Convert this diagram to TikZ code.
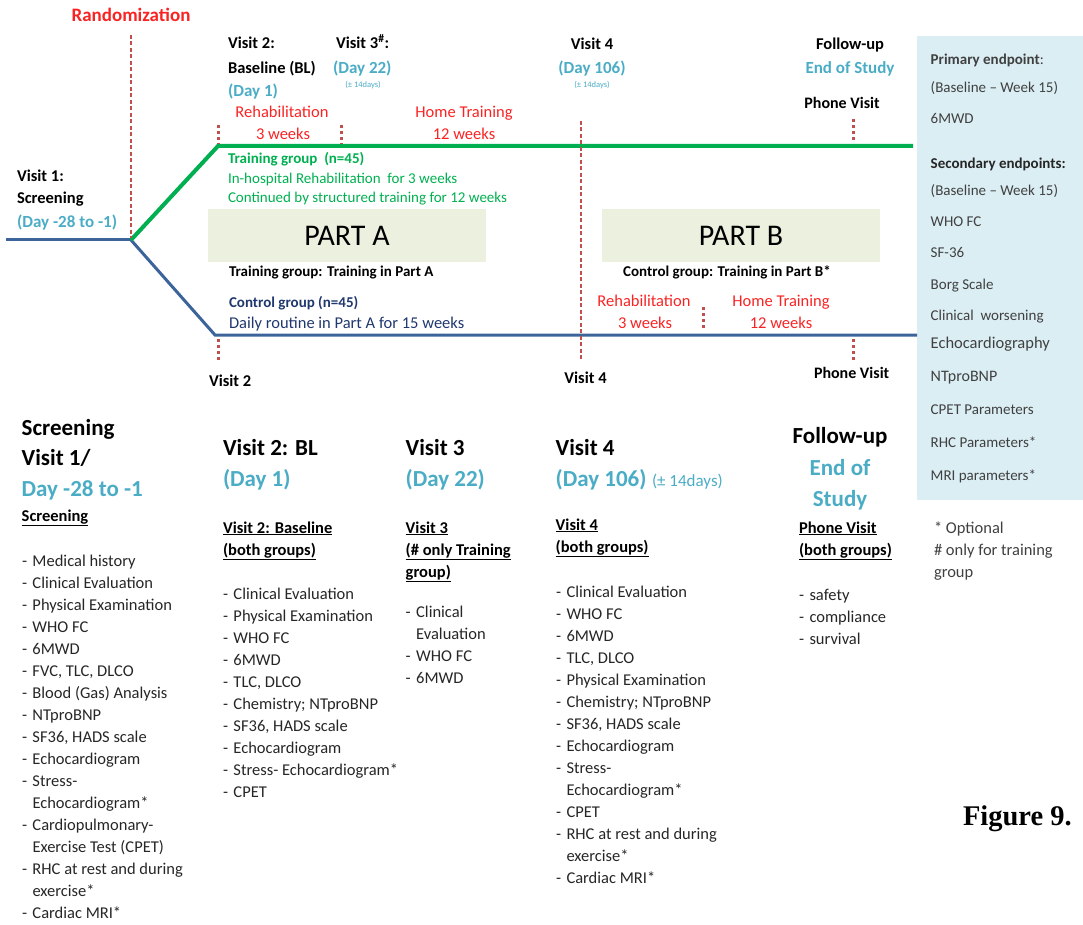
\documentclass[tikz,border=0pt]{standalone}
\usepackage{fontspec}
\setmainfont{Carlito}
\newfontfamily\figfont{Liberation Serif}

\definecolor{dayblue}{RGB}{75,172,198}
\definecolor{phasered}{RGB}{250,35,35}
\definecolor{visitred}{RGB}{192,80,77}
\definecolor{tgreen}{RGB}{0,176,80}
\definecolor{lineblue}{RGB}{60,100,155}
\definecolor{navy}{RGB}{32,56,110}
\definecolor{partfill}{RGB}{235,241,222}
\definecolor{panelfill}{RGB}{219,238,244}
\definecolor{epgray}{RGB}{64,64,64}
\definecolor{listgray}{RGB}{38,38,38}

% list bullets: a dash in a fixed-width box, and the matching indent
\newcommand\dashit{\makebox[10.5pt][l]{-}}
\newcommand\contit{\hspace*{10.5pt}}

\begin{document}
\begin{tikzpicture}[x=1pt,y=-1pt,
  every node/.style={inner sep=0pt, outer sep=0pt},
  bw/.style={anchor=base west},
  bc/.style={anchor=base},
  toplbl/.style={font=\fontsize{16.5}{20}\selectfont\bfseries, text=black},
  daytxt/.style={font=\fontsize{17}{20}\selectfont\bfseries, text=dayblue},
  tinytxt/.style={font=\fontsize{8.5}{10}\selectfont, text=dayblue},
  phasetxt/.style={font=\fontsize{16.5}{20}\selectfont, text=phasered},
  grptxt/.style={font=\fontsize{15}{18}\selectfont},
  partbox/.style={anchor=north west, fill=partfill, minimum width=278pt,
    minimum height=53pt, font=\fontsize{30}{32}\selectfont},
  eptxt/.style={anchor=base west, font=\fontsize{15}{18}\selectfont, text=epgray},
  bighd/.style={anchor=base west, font=\fontsize{23}{28}\selectfont\bfseries},
  subhd/.style={anchor=north west, align=left, font=\fontsize{16.5}{22}\selectfont\bfseries},
  lst/.style={anchor=north west, align=left, font=\fontsize{16.5}{22}\selectfont, text=listgray},
  dashln/.style={draw=visitred, line width=2pt, dash pattern=on 4pt off 2.5pt},
  vtick/.style={draw=visitred, line width=3pt, dash pattern=on 3pt off 3pt},
]
\useasboundingbox (0,0) rectangle (1083,925);

% ---------------- endpoint panel ----------------
\node[anchor=north west, fill=panelfill, minimum width=166pt, minimum height=464pt] (panel) at (917,36) {};

% ---------------- study arms ----------------
\coordinate (start) at (6,240);
\coordinate (split) at (131,240);
\coordinate (tgCorner) at (218,146);
\coordinate (tgEnd) at (913,146);
\coordinate (cgCorner) at (215,335);
\coordinate (cgEnd) at (917,335);

\draw[lineblue, line width=3pt] (start) -- (split);
\draw[lineblue, line width=3pt, line join=miter] (split) -- (cgCorner) -- (cgEnd);
\draw[lineblue, line width=3pt] (split) -- (tgCorner);
\draw[tgreen, line width=4pt, line join=miter] (split) -- (tgCorner) -- (tgEnd);

% ---------------- visit markers ----------------
\coordinate (randTop) at (131,35);
\coordinate (randBot) at (131,238);
\draw[dashln] (randTop) -- (randBot);
\coordinate (v4Top) at (581,121);
\coordinate (v4Bot) at (581,360);
\draw[dashln] (v4Top) -- (v4Bot);

\coordinate (tA1) at (218,125); \coordinate (tA2) at (218,144);
\coordinate (tB1) at (341,125); \coordinate (tB2) at (341,144);
\coordinate (tC1) at (853,119); \coordinate (tC2) at (853,140);
\coordinate (tD1) at (218,339); \coordinate (tD2) at (218,360);
\coordinate (tE1) at (703,307); \coordinate (tE2) at (703,328);
\coordinate (tF1) at (853,339); \coordinate (tF2) at (853,360);
\draw[vtick] (tA1) -- (tA2);
\draw[vtick] (tB1) -- (tB2);
\draw[vtick] (tC1) -- (tC2);
\draw[vtick] (tD1) -- (tD2);
\draw[vtick] (tE1) -- (tE2);
\draw[vtick] (tF1) -- (tF2);

% ---------------- timeline labels ----------------
\node[bc, font=\fontsize{19}{22}\selectfont\bfseries, text=phasered] (rand) at (131,22) {Randomization};

\node[bw, toplbl] (v2a) at (228,49) {Visit 2:};
\node[bw, toplbl] (v2b) at (228,73.5) {Baseline (BL)};
\node[bw, daytxt] (v2c) at (228,97) {(Day 1)};

\node[bw, toplbl] (v3a) at (336,49) {Visit 3\textsuperscript{\#}:};
\node[bw, daytxt] (v3b) at (333,73.5) {(Day 22)};
\node[bc, tinytxt] (v3c) at (363,88) {(± 14days)};

\node[bc, phasetxt] (rehA1) at (282,118) {Rehabilitation};
\node[bc, phasetxt] (rehA2) at (283,139.5) {3 weeks};
\node[bc, phasetxt] (homA1) at (464,118) {Home Training};
\node[bc, phasetxt] (homA2) at (464,139.5) {12 weeks};

\node[bc, toplbl] (v4a) at (592,50) {Visit 4};
\node[bc, daytxt] (v4b) at (592,73.5) {(Day 106)};
\node[bc, tinytxt] (v4c) at (592,88) {(± 14days)};

\node[bc, toplbl] (fua) at (850,50) {Follow-up};
\node[bc, daytxt] (fub) at (850,73.5) {End of Study};
\node[bc, toplbl, font=\fontsize{16}{20}\selectfont\bfseries] (fuc) at (842,109) {Phone Visit};

\node[bw, toplbl] (v1a) at (17,181.7) {Visit 1:};
\node[bw, toplbl] (v1b) at (17,204) {Screening};
\node[bw, daytxt] (v1c) at (17,228) {(Day -28 to -1)};

\node[bw, grptxt, text=tgreen, font=\fontsize{15}{18}\selectfont\bfseries] (tg1) at (228,164) {Training group~ (n=45)};
\node[bw, grptxt, text=tgreen] (tg2) at (228,183.5) {In-hospital Rehabilitation~ for 3 weeks};
\node[bw, grptxt, text=tgreen] (tg3) at (228,203) {Continued by structured training for 12 weeks};

\node[partbox] (partA) at (208,209) {PART A};
\node[partbox] (partB) at (602,209) {PART B};

\node[bw, font=\fontsize{15}{18}\selectfont\bfseries] (trA) at (229,276) {Training group: Training in Part A};
\node[bw, font=\fontsize{15}{18}\selectfont\bfseries, text=navy] (cg1) at (229,307) {Control group (n=45)};
\node[bw, font=\fontsize{16.5}{20}\selectfont, text=navy] (cg2) at (229,328) {Daily routine in Part A for 15 weeks};

\node[bc, font=\fontsize{15}{18}\selectfont\bfseries] (trB) at (727,276) {Control group: Training in Part B*};
\node[bc, phasetxt] (rehB1) at (644,306) {Rehabilitation};
\node[bc, phasetxt] (rehB2) at (645,328) {3 weeks};
\node[bc, phasetxt] (homB1) at (781,306) {Home Training};
\node[bc, phasetxt] (homB2) at (781,328) {12 weeks};

\node[bw, toplbl] (v2low) at (209,386) {Visit 2};
\node[bc, toplbl] (v4low) at (585.5,383) {Visit 4};
\node[bc, toplbl, font=\fontsize{16}{20}\selectfont\bfseries] (pvlow) at (851.6,378) {Phone Visit};

% ---------------- endpoints ----------------
\node[eptxt] (ep1) at (930.7,65) {\textbf{Primary endpoint}:};
\node[eptxt] (ep2) at (930.7,92.7) {(Baseline – Week 15)};
\node[eptxt] (ep3) at (930.7,124) {6MWD};
\node[eptxt, font=\fontsize{15}{18}\selectfont\bfseries, text=black!85] (ep4) at (930.7,168.3) {Secondary endpoints:};
\node[eptxt] (ep5) at (930.7,195.7) {(Baseline – Week 15)};
\node[eptxt] (ep6) at (930.7,226.7) {WHO FC};
\node[eptxt] (ep7) at (930.7,257.7) {SF-36};
\node[eptxt] (ep8) at (930.7,289.3) {Borg Scale};
\node[eptxt] (ep9) at (930.7,320) {Clinical~ worsening};
\node[eptxt, font=\fontsize{16.5}{20}\selectfont] (ep10) at (930.7,348.3) {Echocardiography};
\node[eptxt, font=\fontsize{16}{20}\selectfont] (ep11) at (930.7,381.7) {NTproBNP};
\node[eptxt] (ep12) at (930.7,414) {CPET Parameters};
\node[eptxt] (ep13) at (930.7,447.3) {RHC Parameters*};
\node[eptxt] (ep14) at (930.7,480) {MRI parameters*};

% ---------------- visit schedule columns ----------------
% column 1: screening
\node[bighd] (c1a) at (21.7,435) {Screening};
\node[bighd] (c1b) at (21.7,465) {Visit 1/};
\node[bighd, text=dayblue] (c1c) at (21.7,496.5) {Day -28 to -1};
\node[subhd, anchor=base west] (c1s) at (21.7,521) {\underline{Screening}};
\node[lst] (c1l) at (22,550.6) {\strut\dashit Medical history\\
  \dashit Clinical Evaluation\\
  \dashit Physical Examination\\
  \dashit WHO FC\\
  \dashit 6MWD\\
  \dashit FVC, TLC, DLCO\\
  \dashit Blood (Gas) Analysis\\
  \dashit NTproBNP\\
  \dashit SF36, HADS scale\\
  \dashit Echocardiogram\\
  \dashit Stress-\\
  \contit Echocardiogram*\\
  \dashit Cardiopulmonary-\\
  \contit Exercise Test (CPET)\\
  \dashit RHC at rest and during\\
  \contit exercise*\\
  \dashit Cardiac MRI*};

% column 2: baseline
\node[bighd] (c2a) at (223,455) {Visit 2: BL};
\node[bighd, text=dayblue] (c2b) at (223,486) {(Day 1)};
\node[subhd] (c2s) at (223,517.6) {\strut\underline{Visit 2: Baseline}\\\underline{(both groups)}};
\node[lst] (c2l) at (223,583.6) {\strut\dashit Clinical Evaluation\\
  \dashit Physical Examination\\
  \dashit WHO FC\\
  \dashit 6MWD\\
  \dashit TLC, DLCO\\
  \dashit Chemistry; NTproBNP\\
  \dashit SF36, HADS scale\\
  \dashit Echocardiogram\\
  \dashit Stress- Echocardiogram*\\
  \dashit CPET};

% column 3: visit 3
\node[bighd] (c3a) at (405.7,455) {Visit 3};
\node[bighd, text=dayblue] (c3b) at (405.7,486) {(Day 22)};
\node[subhd] (c3s) at (405.7,517.6) {\strut\underline{Visit 3}\\\underline{(\# only Training}\\\underline{group)}};
\node[lst] (c3l) at (405.7,601.6) {\strut\dashit Clinical\\
  \contit Evaluation\\
  \dashit WHO FC\\
  \dashit 6MWD};

% column 4: visit 4
\node[bighd] (c4a) at (555.7,455) {Visit 4};
\node[bighd, text=dayblue] (c4b) at (555.7,486) {(Day 106)};
\node[bw, font=\fontsize{17}{20}\selectfont, text=dayblue] (c4c) at (652,486) {(± 14days)};
\node[subhd] (c4s) at (555.7,514.6) {\strut\underline{Visit 4}\\\underline{(both groups)}};
\node[lst] (c4l) at (556,581.6) {\strut\dashit Clinical Evaluation\\
  \dashit WHO FC\\
  \dashit 6MWD\\
  \dashit TLC, DLCO\\
  \dashit Physical Examination\\
  \dashit Chemistry; NTproBNP\\
  \dashit SF36, HADS scale\\
  \dashit Echocardiogram\\
  \dashit Stress-\\
  \contit Echocardiogram*\\
  \dashit CPET\\
  \dashit RHC at rest and during\\
  \contit exercise*\\
  \dashit Cardiac MRI*};

% column 5: follow-up
\node[bighd, anchor=base] (c5a) at (840,443) {Follow-up};
\node[bighd, anchor=base, text=dayblue] (c5b) at (840,475) {End of};
\node[bighd, anchor=base, text=dayblue] (c5c) at (840,506) {Study};
\node[subhd] (c5s) at (799,517.6) {\strut\underline{Phone Visit}\\\underline{(both groups)}};
\node[lst] (c5l) at (799,584.6) {\strut\dashit safety\\
  \dashit compliance\\
  \dashit survival};

% footnotes
\node[lst, text=epgray] (notes) at (934,517.6) {\strut* Optional\\\# only for training\\group};

\node[bw, font=\figfont\fontsize{28.5}{32}\selectfont\bfseries] (fig) at (963,825) {Figure 9.};
\end{tikzpicture}
\end{document}
